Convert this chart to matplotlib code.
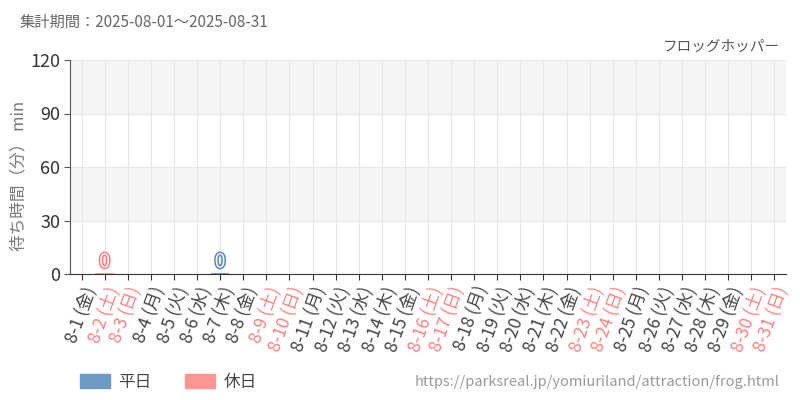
import matplotlib
matplotlib.use("Agg")
import matplotlib.pyplot as plt
import matplotlib.patheffects as pe
from matplotlib.patches import Patch

plt.rcParams['font.family'] = ['Noto Sans CJK JP', 'DejaVu Sans']

# data
days = [f"8-{d}" for d in range(1, 32)]
weekdays = ["金", "土", "日", "月", "火", "水", "木"] * 5
weekdays = weekdays[:31]
holiday = [w in ("土", "日") for w in weekdays]
# only two days have a (zero) reading
wait_weekday = {6: 0}     # 8-7
wait_holiday = {1: 0}     # 8-2

blue = "#6b9bc3"
pink = "#ff9494"
pink_txt = "#ff8080"

fig = plt.figure(figsize=(8, 4), dpi=100)
ax = fig.add_axes([70 / 800, 1 - 274 / 400, 716 / 800, 214 / 400])

ax.set_xlim(-0.5, 30.5)
ax.set_ylim(0, 120)

# alternating bands
for lo in (30, 90):
    ax.axhspan(lo, lo + 30, color="#f5f5f5", zorder=0)
ax.set_yticks([0, 30, 60, 90, 120])
ax.set_xticks(range(31))
ax.grid(True, color="#e6e6e6", linewidth=0.8, zorder=0.5)
ax.set_axisbelow(True)

for spine in ("top", "right"):
    ax.spines[spine].set_visible(False)
ax.spines["left"].set_color("#555555")
ax.spines["bottom"].set_color("#333333")

def draw(vals, col, tcol):
    for i, v in vals.items():
        ax.bar(i, max(v, 0.6), width=0.8, color=col, zorder=3)
        ax.text(i, v + 0.8, str(v), ha="center", va="bottom", fontsize=14,
                color="#f4f4f4", zorder=4,
                path_effects=[pe.withStroke(linewidth=2.2, foreground=tcol)])

draw(wait_weekday, blue, "#5a8ab5")
draw(wait_holiday, pink, pink_txt)

labels = [f"{d} ({w})" for d, w in zip(days, weekdays)]
ax.set_xticklabels(labels, rotation=70, ha="right", va="top",
                   rotation_mode="anchor", fontsize=12.5)
for lbl, h in zip(ax.get_xticklabels(), holiday):
    lbl.set_color(pink_txt if h else "#444444")
ax.tick_params(axis="x", length=4, color="#333333", pad=3)
ax.tick_params(axis="y", length=4, color="#555555", labelsize=13,
               labelcolor="#333333", pad=3)

ax.set_ylabel("待ち時間（分） min", color="#777777", fontsize=12)
ax.yaxis.set_label_coords(-0.06, 0.46)

fig.text(20 / 800, 1 - 22 / 400, "集計期間：2025-08-01～2025-08-31",
         fontsize=11, color="#666666", va="center")
fig.text(780 / 800, 1 - 47 / 400, "フロッグホッパー", fontsize=10.5,
         color="#555555", ha="right", va="center")
fig.text(780 / 800, 1 - 382 / 400,
         "https://parksreal.jp/yomiuriland/attraction/frog.html",
         fontsize=10.5, color="#999999", ha="right", va="center")

handles = [Patch(color=blue, label="平日"), Patch(color=pink, label="休日")]
fig.legend(handles=handles, loc="center left",
           bbox_to_anchor=(80 / 800, 1 - 382 / 400), ncol=2, frameon=False,
           fontsize=12, handlelength=1.8, handleheight=0.9,
           columnspacing=2.0, handletextpad=0.5, borderpad=0,
           borderaxespad=0, labelcolor="#444444")

fig.savefig("out.png", dpi=100)
